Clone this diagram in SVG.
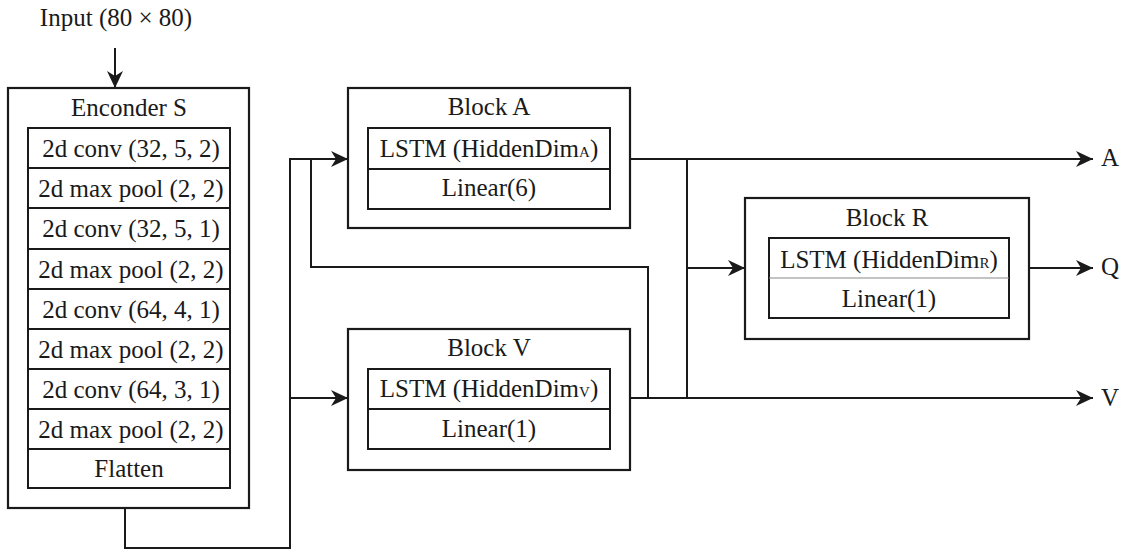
<svg xmlns="http://www.w3.org/2000/svg" width="1127" height="551" viewBox="0 0 1127 551">
<style>
text{font-family:"Liberation Serif","Times New Roman",serif;font-size:25px;fill:#1a1a1a;text-anchor:middle}
.outer{fill:none;stroke:#1a1a1a;stroke-width:2.2}
.inner{fill:none;stroke:#1a1a1a;stroke-width:2}
.div{stroke:#1a1a1a;stroke-width:2}
.thin{stroke:#888;stroke-width:1}
.wire{fill:none;stroke:#1a1a1a;stroke-width:2}
.sub{font-size:15px}
.lab{text-anchor:start}
</style>
<defs>
<marker id="arr" markerUnits="userSpaceOnUse" markerWidth="18" markerHeight="16" viewBox="0 0 18 16" refX="17" refY="8" orient="auto">
<path d="M0,0 L17,8 L0,16 L5,8 Z" fill="#1a1a1a"/>
</marker>
</defs>
<text id="input-label" x="116" y="26">Input (80 × 80)</text>
<g id="encoder">
<rect class="outer" x="8" y="88" width="241" height="420"/>
<text x="129" y="116">Enconder S</text>
<rect class="inner" x="28" y="128" width="202" height="360"/>
<line class="div" x1="28" y1="168" x2="230" y2="168"/>
<line class="div" x1="28" y1="208" x2="230" y2="208"/>
<line class="div" x1="28" y1="249" x2="230" y2="249"/>
<line class="div" x1="28" y1="289" x2="230" y2="289"/>
<line class="div" x1="28" y1="329" x2="230" y2="329"/>
<line class="div" x1="28" y1="369" x2="230" y2="369"/>
<line class="div" x1="28" y1="409" x2="230" y2="409"/>
<line class="div" x1="28" y1="449" x2="230" y2="449"/>
<text x="131" y="157">2d conv (32, 5, 2)</text>
<text x="131" y="197">2d max pool (2, 2)</text>
<text x="131" y="237">2d conv (32, 5, 1)</text>
<text x="131" y="278">2d max pool (2, 2)</text>
<text x="131" y="318">2d conv (64, 4, 1)</text>
<text x="131" y="358">2d max pool (2, 2)</text>
<text x="131" y="398">2d conv (64, 3, 1)</text>
<text x="131" y="438">2d max pool (2, 2)</text>
<text x="129" y="477">Flatten</text>
</g>
<g id="block-a">
<rect class="outer" x="348" y="88" width="282" height="140"/>
<text x="489" y="115">Block A</text>
<rect class="inner" x="368" y="128" width="242" height="81"/>
<line class="div" x1="368" y1="169" x2="610" y2="169"/>
<text x="489" y="157">LSTM (HiddenDim<tspan class="sub">A</tspan>)</text>
<text x="489" y="196">Linear(6)</text>
</g>
<g id="block-v">
<rect class="outer" x="348" y="329" width="282" height="141"/>
<text x="489" y="356">Block V</text>
<rect class="inner" x="368" y="369" width="242" height="80"/>
<line class="div" x1="368" y1="409" x2="610" y2="409"/>
<text x="489" y="397">LSTM (HiddenDim<tspan class="sub">V</tspan>)</text>
<text x="489" y="437">Linear(1)</text>
</g>
<g id="block-r">
<rect class="outer" x="745" y="198" width="284" height="141"/>
<text x="887" y="226">Block R</text>
<rect class="inner" x="769" y="238" width="240" height="80"/>
<line class="thin" x1="769" y1="278" x2="1009" y2="278"/>
<text x="889" y="268">LSTM (HiddenDim<tspan class="sub">R</tspan>)</text>
<text x="889" y="307">Linear(1)</text>
</g>
<g id="connectors">
<path class="wire" d="M115,48 V88" marker-end="url(#arr)"/>
<path class="wire" d="M125,508 V548 H290 V159 H348" marker-end="url(#arr)"/>
<path class="wire" d="M290,398 H348" marker-end="url(#arr)"/>
<path class="wire" d="M311,159 V267 H648 V398"/>
<path class="wire" d="M630,159 H1093" marker-end="url(#arr)"/>
<path class="wire" d="M687,159 V398"/>
<path class="wire" d="M687,268 H745" marker-end="url(#arr)"/>
<path class="wire" d="M630,398 H1093" marker-end="url(#arr)"/>
<path class="wire" d="M1029,268 H1093" marker-end="url(#arr)"/>
</g>
<g id="outputs">
<text class="lab" x="1101" y="166">A</text>
<text class="lab" x="1101" y="275">Q</text>
<text class="lab" x="1101" y="406">V</text>
</g>
</svg>
